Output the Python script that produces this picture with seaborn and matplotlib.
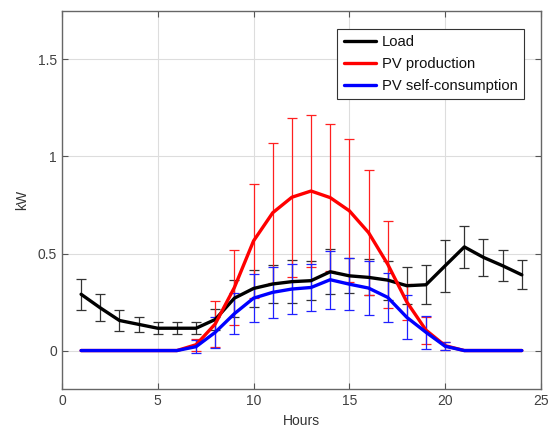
import matplotlib
matplotlib.use("Agg")
import matplotlib.pyplot as plt
import seaborn as sns
import numpy as np
import pandas as pd

hours = list(range(1, 25))
load = [0.29, 0.22, 0.155, 0.135, 0.115, 0.115, 0.115, 0.16, 0.27, 0.32, 0.343, 0.355,
        0.36, 0.406, 0.385, 0.377, 0.363, 0.334, 0.339, 0.437, 0.534, 0.48, 0.437, 0.39]
load_err = [0.08, 0.07, 0.055, 0.04, 0.03, 0.03, 0.03, 0.055, 0.095, 0.097, 0.10, 0.11,
            0.10, 0.115, 0.09, 0.093, 0.10, 0.095, 0.10, 0.135, 0.11, 0.095, 0.08, 0.075]
pv = [0, 0, 0, 0, 0, 0, 0.03, 0.137, 0.325, 0.565, 0.71, 0.79,
      0.822, 0.788, 0.72, 0.608, 0.445, 0.25, 0.105, 0.025, 0, 0, 0, 0]
pv_err = [0, 0, 0, 0, 0, 0, 0.03, 0.12, 0.195, 0.295, 0.36, 0.41,
          0.394, 0.377, 0.368, 0.32, 0.225, 0.095, 0.07, 0.02, 0, 0, 0, 0]
selfc = [0, 0, 0, 0, 0, 0, 0.02, 0.094, 0.19, 0.27, 0.30, 0.317,
         0.325, 0.365, 0.342, 0.322, 0.274, 0.171, 0.094, 0.022, 0, 0, 0, 0]
selfc_err = [0, 0, 0, 0, 0, 0, 0.035, 0.08, 0.105, 0.122, 0.13, 0.127,
             0.122, 0.15, 0.133, 0.14, 0.128, 0.113, 0.085, 0.02, 0, 0, 0, 0]

series_names = ["Load", "PV production", "PV self-consumption"]
line_colors = ["#000000", "#ff0000", "#0000ff"]
err_colors = ["#333333", "#ff2020", "#2020ff"]

sns.set_style("ticks")
plt.rcParams['font.family'] = ['Liberation Sans', 'DejaVu Sans']

fig = plt.figure(figsize=(5.58, 4.37), dpi=100)
ax = fig.add_axes([0.111, 0.109, 0.8585, 0.866])

df = pd.DataFrame({
    "Hours": hours * 3,
    "kW": load + pv + selfc,
    "err": load_err + pv_err + selfc_err,
    "series": sum([[n] * len(hours) for n in series_names], []),
})

for name, lc, ec in zip(series_names, line_colors, err_colors):
    sub = df[df["series"] == name]
    nz = sub[sub["err"] > 0]
    ax.errorbar(nz["Hours"], nz["kW"], yerr=nz["err"], fmt="none", ecolor=ec,
                elinewidth=0.9, capsize=3.8, capthick=0.9, zorder=2)

sns.lineplot(data=df, x="Hours", y="kW", hue="series", hue_order=series_names,
             palette=line_colors, linewidth=2.4, ax=ax, zorder=3)

ax.set_xlim(0, 25)
ax.set_ylim(-0.2, 1.75)
ax.set_xticks([0, 5, 10, 15, 20, 25])
ax.set_yticks([0, 0.5, 1, 1.5])
ax.set_yticklabels(["0", "0.5", "1", "1.5"])
ax.set_xlabel("Hours", fontsize=10, color="#333333", labelpad=4)
ax.set_ylabel("kW", fontsize=10, color="#333333", labelpad=6)
ax.grid(True, color="#dddddd", linewidth=0.8)
ax.set_axisbelow(True)
ax.tick_params(direction="in", top=True, right=True, length=4, width=0.8,
               labelsize=10, labelcolor="#404040", color="#555555")
for s in ax.spines.values():
    s.set_visible(True)
    s.set_color("#666666")
    s.set_linewidth(1.0)

leg = ax.legend(loc="upper right", bbox_to_anchor=(0.9645, 0.9526), borderaxespad=0,
                fontsize=10.6, frameon=True, fancybox=False, framealpha=1,
                edgecolor="#333333", handlelength=2.2, labelspacing=0.55,
                borderpad=0.42, handletextpad=0.4)
leg.get_frame().set_linewidth(0.8)
for t in leg.get_texts():
    t.set_color("#111111")

fig.savefig("out.png", dpi=100)
